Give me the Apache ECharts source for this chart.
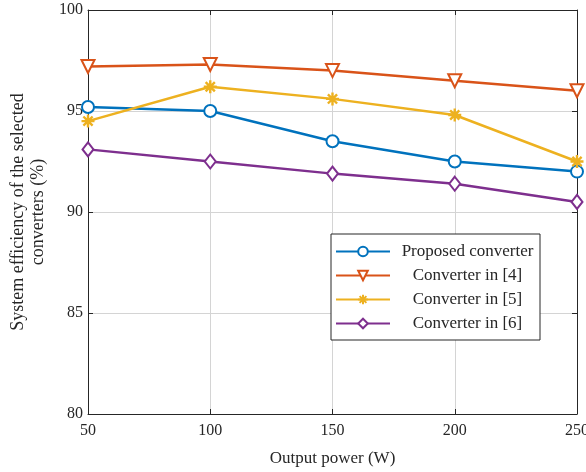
<!DOCTYPE html>
<html>
<head>
<meta charset="utf-8">
<script src="https://cdn.jsdelivr.net/npm/echarts@6/dist/echarts.min.js"></script>
<style>
html,body{margin:0;padding:0;background:#fff;}
#chart{width:586px;height:472px;}
</style>
</head>
<body>
<div id="chart"></div>
<script>
const powers = [50, 100, 150, 200, 250];
const xTicks = [50, 100, 150, 200, 250];
const yTicks = [80, 85, 90, 95, 100];
const seriesNames = ['Proposed converter', 'Converter in [4]', 'Converter in [5]', 'Converter in [6]'];
const proposed = [95.2, 95.0, 93.5, 92.5, 92.0];
const conv4 = [97.2, 97.3, 97.0, 96.5, 96.0];
const conv5 = [94.5, 96.2, 95.6, 94.8, 92.5];
const conv6 = [93.1, 92.5, 91.9, 91.4, 90.5];

const FONT = 'Liberation Serif';
const AX = '#262626';
const GRIDC = '#d4d4d4';
const asterisk = 'path://M0,-10L0,10M-10,0L10,0M-7.07,-7.07L7.07,7.07M-7.07,7.07L7.07,-7.07';

function pairs(vals){ return powers.map((p,i)=>[p, vals[i]]); }

const chart = echarts.init(document.getElementById('chart'), null, {renderer:'canvas'});

function mk(name, vals, color, symbol, extra){
  return Object.assign({
    name: name,
    type: 'line',
    data: pairs(vals),
    symbol: symbol,
    symbolSize: 12,
    showSymbol: true,
    lineStyle: {width: 2.5, color: color},
    itemStyle: {color: color, borderColor: color, borderWidth: 2.4},
    emphasis: {disabled: true},
    z: 3
  }, extra || {});
}

const option = {
  animation: false,
  backgroundColor: '#fff',
  grid: {left: 88, right: 9, top: 10, bottom: 58, outerBoundsMode: 'none', containLabel: false},
  xAxis: [{
    type: 'value', min: xTicks[0], max: xTicks[xTicks.length-1], interval: 50,
    name: 'Output power (W)', nameLocation: 'middle', nameGap: 36,
    nameTextStyle: {fontFamily: FONT, fontSize: 17, color: AX},
    axisLine: {show: true, onZero: false, lineStyle: {color: AX, width: 1}},
    axisTick: {show: true, inside: true, length: 5, lineStyle: {color: AX}},
    axisLabel: {fontFamily: FONT, fontSize: 16, color: AX, margin: 9},
    splitLine: {show: true, lineStyle: {color: GRIDC, width: 1}}
  },{
    type: 'value', position: 'top', min: xTicks[0], max: xTicks[xTicks.length-1], interval: 50,
    axisLine: {show: true, onZero: false, lineStyle: {color: AX, width: 1}},
    axisTick: {show: true, inside: true, length: 5, lineStyle: {color: AX}},
    axisLabel: {show: false}, splitLine: {show: false}
  }],
  yAxis: [{
    type: 'value', min: yTicks[0], max: yTicks[yTicks.length-1], interval: 5,
    name: 'System efficiency of the selected\nconverters (%)', nameLocation: 'middle', nameGap: 40,
    nameTextStyle: {fontFamily: FONT, fontSize: 18, color: AX, lineHeight: 20, align: 'center'},
    axisLine: {show: true, onZero: false, lineStyle: {color: AX, width: 1}},
    axisTick: {show: true, inside: true, length: 5, lineStyle: {color: AX}},
    axisLabel: {fontFamily: FONT, fontSize: 16, color: AX, margin: 5},
    splitLine: {show: true, lineStyle: {color: GRIDC, width: 1}}
  },{
    type: 'value', position: 'right', min: yTicks[0], max: yTicks[yTicks.length-1], interval: 5,
    axisLine: {show: true, onZero: false, lineStyle: {color: AX, width: 1}},
    axisTick: {show: true, inside: true, length: 5, lineStyle: {color: AX}},
    axisLabel: {show: false}, splitLine: {show: false}
  }],
  legend: {
    orient: 'vertical',
    left: 331, top: 234,
    padding: [9, 0, 8, 4],
    itemGap: 7,
    itemWidth: 54, itemHeight: 12,
    backgroundColor: '#fff',
    borderColor: AX, borderWidth: 1, borderRadius: 0,
    data: seriesNames,
    formatter: function(n){ return '{a|' + n + '}'; },
    textStyle: {
      fontFamily: FONT, fontSize: 17, color: AX,
      rich: {a: {fontFamily: FONT, fontSize: 17, color: AX, width: 145, align: 'center', lineHeight: 17}}
    }
  },
  series: [
    mk(seriesNames[0], proposed, '#0072BD', 'emptyCircle'),
    mk(seriesNames[1], conv4, '#D95319', 'emptyTriangle', {symbolRotate: 180, symbolSize: 13}),
    mk(seriesNames[2], conv5, '#EDB120', asterisk, {symbolSize: 13}),
    mk(seriesNames[3], conv6, '#7E2F8E', 'emptyDiamond', {symbolSize: [11, 14]})
  ]
};
chart.setOption(option);
</script>
</body>
</html>
